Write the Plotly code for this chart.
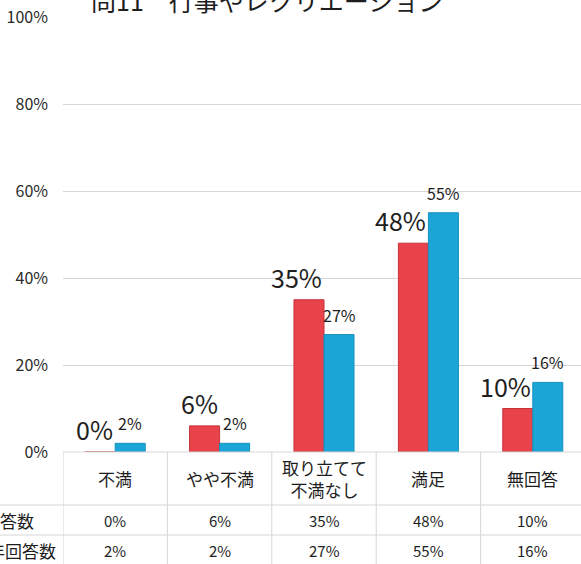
import plotly.graph_objects as go

# ---- data ----
categories = ["不満", "やや不満", "取り立てて<br>不満なし", "満足", "無回答"]
series_names = ["今回回答数", "昨年回答数"]
current_values = [0.00, 0.06, 0.35, 0.48, 0.10]
previous_values = [0.02, 0.02, 0.27, 0.55, 0.16]
current_labels = ["0%", "6%", "35%", "48%", "10%"]
previous_labels = ["2%", "2%", "27%", "55%", "16%"]
y_ticks = [0, 0.2, 0.4, 0.6, 0.8, 1.0]
y_tick_labels = ["0%", "20%", "40%", "60%", "80%", "100%"]
title_text = "問11　行事やレクリエーション"

RED = "#E8434B"
BLUE = "#1BA6D7"
FONT = "Noto Sans CJK JP"
TXT = "#1e1e1e"

W, H = 581, 564
ML, MR, MT, MB = 63, 0, 17, 112
PW = W - ML - MR
PH = H - MT - MB

def px_x(px):
    return (px - ML) / PW

def px_y(py):
    return (H - MB - py) / PH

xidx = list(range(len(categories)))

fig = go.Figure()
fig.add_trace(go.Bar(x=xidx, y=current_values, name=series_names[0],
                     marker=dict(color=RED, line=dict(color="#C8323A", width=1))))
fig.add_trace(go.Bar(x=xidx, y=previous_values, name=series_names[1],
                     marker=dict(color=BLUE, line=dict(color="#1591BE", width=1))))

ann = []
shapes = []

# value labels above bars
for i, (v, t) in enumerate(zip(current_values, current_labels)):
    ann.append(dict(x=i, y=v, xref="x", yref="y", text=t, showarrow=False,
                    xanchor="right", yanchor="bottom", xshift=0, yshift=3,
                    font=dict(family=FONT, size=25, color=TXT)))
for i, (v, t) in enumerate(zip(previous_values, previous_labels)):
    ann.append(dict(x=i, y=v, xref="x", yref="y", text=t, showarrow=False,
                    xanchor="center", yanchor="bottom", xshift=15, yshift=6,
                    font=dict(family=FONT, size=16, color=TXT)))

# data table: header row
for i, c in enumerate(categories):
    ann.append(dict(x=i, y=px_y(478), xref="x", yref="paper", text=c, showarrow=False,
                    xanchor="center", yanchor="middle",
                    font=dict(family=FONT, size=17, color=TXT)))
# data table: value rows
for i, t in enumerate(current_labels):
    ann.append(dict(x=i, y=px_y(520), xref="x", yref="paper", text=t, showarrow=False,
                    xanchor="center", yanchor="middle",
                    font=dict(family=FONT, size=15, color=TXT)))
for i, t in enumerate(previous_labels):
    ann.append(dict(x=i, y=px_y(550), xref="x", yref="paper", text=t, showarrow=False,
                    xanchor="center", yanchor="middle",
                    font=dict(family=FONT, size=15, color=TXT)))
# row labels (cut off by the left edge as in the reference)
ann.append(dict(x=px_x(36), y=px_y(520), xref="paper", yref="paper", text=series_names[0],
                showarrow=False, xanchor="right", yanchor="middle",
                font=dict(family=FONT, size=17, color=TXT)))
ann.append(dict(x=px_x(58), y=px_y(550), xref="paper", yref="paper", text=series_names[1],
                showarrow=False, xanchor="right", yanchor="middle",
                font=dict(family=FONT, size=17, color=TXT)))

# title (top cut off)
ann.append(dict(x=px_x(89), y=px_y(0), xref="paper", yref="paper", text=title_text,
                showarrow=False, xanchor="left", yanchor="middle",
                font=dict(family=FONT, size=25, color=TXT)))

GRID = "#d6d6d6"
# table lines
for k in range(len(categories)):
    shapes.append(dict(type="line", xref="x", yref="paper", x0=k - 0.5, x1=k - 0.5,
                       y0=0, y1=px_y(H), line=dict(color=GRID, width=1)))
shapes.append(dict(type="line", xref="paper", yref="paper", x0=0, x1=1,
                   y0=0, y1=0, line=dict(color=GRID, width=1)))
for py in (505, 535):
    shapes.append(dict(type="line", xref="paper", yref="paper", x0=px_x(0), x1=1,
                       y0=px_y(py), y1=px_y(py), line=dict(color=GRID, width=1)))

fig.update_layout(
    width=W, height=H,
    margin=dict(l=ML, r=MR, t=MT, b=MB, pad=0),
    paper_bgcolor="white", plot_bgcolor="white",
    showlegend=False,
    barmode="group", bargap=0.425, bargroupgap=0,
    annotations=ann, shapes=shapes,
    font=dict(family=FONT, color=TXT),
    hovermode=False,
)
fig.update_xaxes(range=[-0.5, len(categories) - 0.5 - 4 / 104.5], showticklabels=False,
                 showgrid=False, zeroline=False, showline=False, fixedrange=True)
fig.update_yaxes(range=[0, 1], tickvals=y_ticks, ticktext=y_tick_labels,
                 showgrid=True, gridcolor=GRID, gridwidth=1, zeroline=False,
                 showline=False, ticks="", ticklabelstandoff=14, fixedrange=True,
                 tickfont=dict(family=FONT, size=16, color="#2a2a2a"))

fig.write_html("out.html", config={"displayModeBar": False},
               post_script="document.body.style.margin='0';document.body.style.overflow='hidden';")
